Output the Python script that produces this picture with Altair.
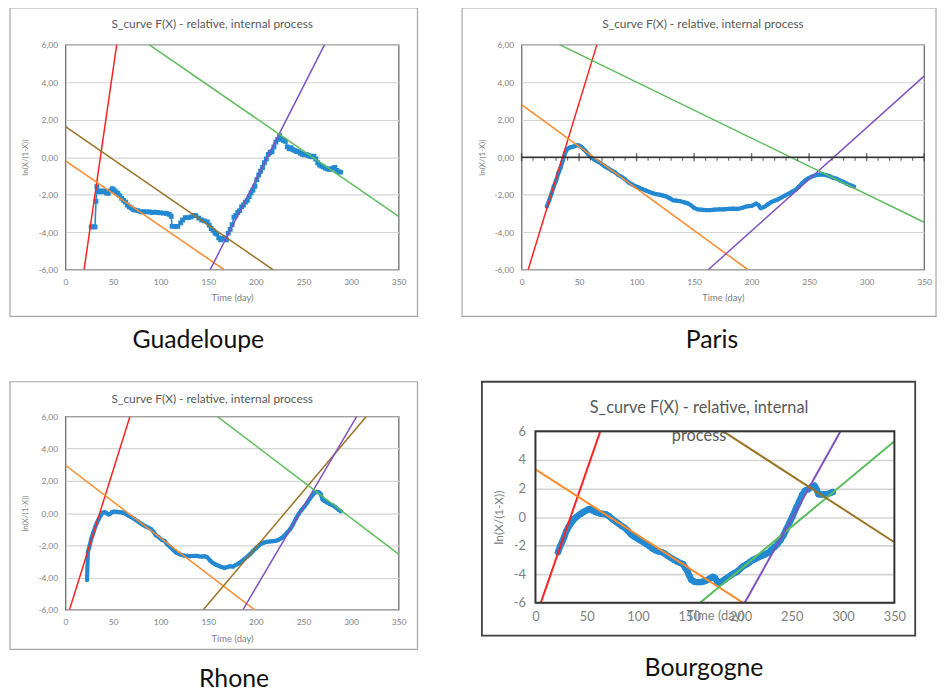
import altair as alt
import pandas as pd

FONT = "Lato"
GREY = "#7f7f7f"
TITLE_GREY = "#595959"

# ---------------- data ----------------
guad_day = [27, 29, 31, 32, 33, 35, 37, 39, 41, 43, 45, 47, 49, 51, 53, 55, 57, 59, 61, 63, 65, 67, 69, 71, 73,
            76, 79, 82, 85, 88, 91, 94, 97, 100, 103, 106, 109, 111, 112, 115, 118, 121, 123, 126, 129, 132, 135,
            137, 140, 143, 146, 149, 151, 153, 155, 157, 159, 161, 163, 165, 167, 169, 171, 173, 175, 177, 179,
            181, 183, 185, 187, 189, 191, 193, 195, 197, 199, 201, 203, 205, 207, 209, 211, 213, 215, 217, 219,
            221, 223, 225, 227, 229, 231, 233, 235, 237, 239, 241, 243, 245, 247, 249, 251, 253, 255, 257, 259,
            261, 263, 265, 267, 269, 271, 273, 275, 277, 279, 281, 283, 285, 287, 289]
guad_val = [-3.72, -3.72, -3.72, -2.35, -1.57, -1.85, -1.80, -1.85, -1.80, -1.90, -1.93, -1.80, -1.68, -1.75,
            -1.85, -1.93, -2.05, -2.20, -2.30, -2.40, -2.55, -2.65, -2.70, -2.78, -2.82, -2.85, -2.92, -2.90,
            -2.92, -2.92, -2.95, -2.93, -2.95, -2.97, -2.98, -3.00, -3.05, -3.15, -3.69, -3.69, -3.69, -3.50,
            -3.35, -3.22, -3.22, -3.18, -3.10, -3.12, -3.25, -3.35, -3.40, -3.45, -3.62, -3.80, -3.90, -4.05,
            -4.10, -4.30, -4.40, -4.35, -4.30, -4.40, -4.05, -3.85, -3.60, -3.20, -3.10, -2.95, -2.85, -2.65,
            -2.55, -2.40, -2.30, -2.10, -1.90, -1.75, -1.55, -1.20, -0.95, -0.75, -0.55, -0.30, -0.10, 0.15,
            0.25, 0.30, 0.55, 0.80, 0.95, 1.15, 0.95, 0.90, 0.85, 0.55, 0.45, 0.50, 0.40, 0.35, 0.30, 0.28,
            0.20, 0.15, 0.12, 0.15, 0.08, 0.05, 0.02, 0.05, -0.10, -0.30, -0.42, -0.48, -0.52, -0.58, -0.62,
            -0.65, -0.63, -0.58, -0.55, -0.70, -0.78, -0.80]

paris_day = [22, 24, 26, 28, 30, 32, 34, 36, 38, 40, 42, 44, 46, 48, 50, 52, 54, 56, 58, 60, 63, 66, 69, 72,
             75, 78, 81, 84, 87, 90, 93, 96, 99, 102, 105, 108, 111, 114, 117, 120, 123, 126, 129, 132, 135,
             138, 141, 144, 147, 150, 153, 156, 160, 164, 168, 172, 176, 180, 184, 188, 192, 196, 200, 204,
             206, 208, 211, 214, 217, 220, 223, 226, 229, 232, 235, 238, 241, 244, 247, 250, 253, 256, 259,
             262, 265, 268, 271, 274, 277, 280, 283, 286, 289]
paris_val = [-2.63, -2.30, -1.95, -1.55, -1.25, -0.85, -0.55, -0.15, 0.25, 0.45, 0.52, 0.55, 0.58, 0.64, 0.62,
             0.55, 0.42, 0.30, 0.15, 0.02, -0.12, -0.22, -0.33, -0.48, -0.58, -0.70, -0.80, -0.95, -1.05,
             -1.18, -1.35, -1.45, -1.55, -1.62, -1.70, -1.78, -1.85, -1.92, -1.97, -2.00, -2.05, -2.10, -2.20,
             -2.30, -2.32, -2.35, -2.40, -2.45, -2.55, -2.70, -2.78, -2.80, -2.82, -2.82, -2.80, -2.78, -2.78,
             -2.76, -2.74, -2.76, -2.70, -2.62, -2.60, -2.48, -2.55, -2.72, -2.65, -2.52, -2.40, -2.32, -2.25,
             -2.15, -2.05, -1.95, -1.85, -1.75, -1.58, -1.38, -1.22, -1.10, -1.02, -0.96, -0.93, -0.92, -0.96,
             -1.02, -1.10, -1.15, -1.25, -1.32, -1.42, -1.50, -1.57]

rhone_day = [22.6, 23.5, 25, 27, 29, 31, 33, 35, 37, 39, 41, 43, 45, 47, 49, 51, 54, 57, 60, 63, 66, 69, 72,
             75, 78, 81, 84, 87, 90, 93, 95, 98, 101, 104, 107, 110, 113, 116, 119, 122, 125, 128, 131, 134,
             137, 140, 143, 146, 149, 152, 155, 158, 161, 164, 167, 170, 173, 176, 179, 182, 185, 188, 191,
             194, 197, 200, 203, 206, 209, 212, 215, 218, 221, 224, 227, 230, 233, 236, 239, 242, 245, 248,
             251, 254, 257, 260, 263, 266, 268, 270, 272, 275, 278, 281, 284, 287, 289]
rhone_val = [-4.15, -2.41, -2.10, -1.60, -1.25, -0.90, -0.60, -0.35, -0.15, 0.02, 0.06, 0.00, -0.08, -0.04,
             0.06, 0.10, 0.08, 0.06, 0.03, -0.05, -0.15, -0.25, -0.35, -0.48, -0.60, -0.72, -0.82, -0.90,
             -1.00, -1.20, -1.38, -1.50, -1.65, -1.72, -1.95, -2.10, -2.28, -2.45, -2.52, -2.60, -2.65, -2.65,
             -2.68, -2.66, -2.65, -2.68, -2.70, -2.68, -2.75, -2.95, -3.10, -3.20, -3.28, -3.35, -3.40, -3.35,
             -3.30, -3.32, -3.22, -3.12, -3.00, -2.85, -2.70, -2.55, -2.35, -2.18, -2.02, -1.88, -1.82, -1.78,
             -1.76, -1.74, -1.72, -1.65, -1.55, -1.40, -1.20, -1.00, -0.70, -0.35, -0.05, 0.20, 0.40, 0.65,
             0.92, 1.15, 1.32, 1.30, 1.20, 0.85, 0.75, 0.65, 0.55, 0.48, 0.35, 0.20, 0.12]

bourg_day = [22, 24, 26, 28, 30, 32, 34, 36, 38, 40, 42, 44, 46, 48, 50, 52, 54, 56, 58, 60, 63, 66, 69, 72,
             75, 78, 81, 84, 87, 90, 93, 96, 99, 102, 105, 108, 111, 114, 117, 120, 123, 126, 129, 132, 135,
             138, 141, 144, 146, 148, 150, 152, 155, 158, 161, 164, 167, 170, 173, 175, 177, 179, 182, 185,
             188, 191, 194, 197, 200, 203, 206, 209, 212, 215, 218, 221, 224, 227, 230, 233, 236, 239, 242,
             245, 248, 251, 254, 257, 260, 263, 266, 269, 272, 274, 276, 279, 282, 285, 288, 290]
bourg_val = [-2.46, -2.05, -1.75, -1.40, -1.00, -0.72, -0.50, -0.30, -0.12, 0.00, 0.12, 0.22, 0.32, 0.40, 0.48,
             0.56, 0.55, 0.45, 0.38, 0.32, 0.25, 0.22, 0.18, 0.05, -0.15, -0.30, -0.45, -0.62, -0.75, -0.95,
             -1.20, -1.35, -1.48, -1.62, -1.75, -1.88, -2.02, -2.20, -2.32, -2.40, -2.45, -2.55, -2.72, -2.85,
             -2.98, -3.10, -3.20, -3.30, -3.55, -3.75, -4.10, -4.40, -4.52, -4.55, -4.55, -4.50, -4.42, -4.30,
             -4.18, -4.25, -4.50, -4.62, -4.50, -4.35, -4.20, -4.05, -3.92, -3.80, -3.60, -3.42, -3.30, -3.15,
             -3.00, -2.90, -2.80, -2.70, -2.60, -2.50, -2.30, -2.10, -1.90, -1.60, -1.25, -0.80, -0.35, 0.10,
             0.60, 1.05, 1.55, 1.85, 1.95, 2.10, 2.20, 1.95, 1.60, 1.58, 1.60, 1.62, 1.70, 1.75]

# fitted straight lines: (colour, day1, val1, day2, val2)
guad_fits = [("red", 19.5, -6, 53.8, 6), ("orange", 0, -0.2, 166.7, -6), ("brown", 0, 1.63, 218, -6),
             ("purple", 152, -6, 272.2, 6), ("green", 87.8, 6, 350, -3.16)]
paris_fits = [("red", 5.7, -6, 65.5, 6), ("orange", 0, 2.8, 196.8, -6), ("purple", 162.3, -6, 350, 4.32),
              ("green", 33, 6, 350, -3.47)]
rhone_fits = [("red", 4.2, -6, 67.7, 6), ("orange", 0, 2.97, 198.6, -6), ("brown", 144.8, -6, 316, 6),
              ("purple", 186.4, -6, 306, 6), ("green", 159.4, 6, 350, -2.55)]
bourg_fits = [("red", 5.2, -6, 63.2, 6), ("orange", 0, 3.34, 202.5, -6), ("green", 160.5, -6, 350, 5.3),
              ("purple", 204, -6, 297.5, 6), ("brown", 183.1, 6, 350, -1.76)]

x_ticks = [0, 50, 100, 150, 200, 250, 300, 350]
y_ticks = [-6, -4, -2, 0, 2, 4, 6]
paris_major = [0, 50, 100, 150, 200, 250, 300, 350]
paris_minor = [d for d in range(0, 351, 10) if d % 50 != 0]

TITLE = "S_curve F(X) - relative, internal process"

FIT_NAMES = ["red", "orange", "brown", "purple", "green"]
FIT_COLORS = ["#ff2222", "#ff8a2b", "#9a7424", "#8052c0", "#5cbd5c"]
BLUE = "#2389d2"


def one():
    return pd.DataFrame({"k": [0]})


def panel(days, vals, fits, w, h, frame, title_pos, label, label_pos, big=False, paris=False,
          square=False, frame_color="#a6a6a6", frame_w=1.2, view_color="#6f6f6f", view_w=1.3, yoff=0):
    lab_fs = 13 if big else 8.5
    if big:
        ylab = "replace(format(datum.value, 'd'), '\u2212', '-')"
    else:
        ylab = "replace(replace(format(datum.value, '.2f'), '.', ','), '\u2212', '-')"
    xax = alt.Axis(values=x_ticks, labelFontSize=lab_fs, labelColor=GREY, labelFont=FONT, ticks=False,
                   domain=False, grid=False, title="Time (day)", titleFont=FONT,
                   titleFontSize=13 if big else 9.5, titleColor=GREY, titleFontWeight="normal",
                   labelPadding=8, titlePadding=-14 if big else 7, labelFlush=False)
    ykw = {}
    if yoff:
        ykw["titleY"] = (h + yoff) / 2
    yax = alt.Axis(values=y_ticks, labelExpr=ylab, labelFontSize=lab_fs, labelColor=GREY, labelFont=FONT,
                   ticks=False, domain=False, grid=True, gridColor="#d4d4d4",
                   gridWidth=1.6 if big else 1.1, title="ln(X/(1-X))", titleFont=FONT,
                   titleFontSize=12 if big else 8, titleColor=GREY, titleFontWeight="normal",
                   labelPadding=10 if big else 8, titlePadding=8, **ykw)
    X = alt.X("day:Q", scale=alt.Scale(domain=[0, 350], nice=False, zero=False), axis=xax)
    if yoff:
        yscale = alt.Scale(domain=[-6, 6], nice=False, zero=False, range=[h, yoff])
    else:
        yscale = alt.Scale(domain=[-6, 6], nice=False, zero=False)
    Y = alt.Y("val:Q", scale=yscale, axis=yax)

    blue_df = pd.DataFrame({"day": days, "val": vals})
    fit_rows = []
    for name, d1, v1, d2, v2 in fits:
        fit_rows.append({"fit": name, "day": d1, "val": v1})
        fit_rows.append({"fit": name, "day": d2, "val": v2})
    fit_df = pd.DataFrame(fit_rows)

    l, r, t, b = frame
    layers = [
        alt.Chart(one()).mark_rect(filled=False, stroke=frame_color, strokeWidth=frame_w).encode(
            x=alt.value(l), x2=alt.value(w + r), y=alt.value(t), y2=alt.value(h + b)),
    ]
    if square:
        layers.append(alt.Chart(blue_df).mark_line(color=BLUE, strokeWidth=1.6, clip=True).encode(x=X, y=Y))
        layers.append(alt.Chart(blue_df).mark_point(color=BLUE, shape="square", filled=True, size=24,
                                                    opacity=1, clip=True).encode(x=X, y=Y))
    else:
        sw = 6.5 if big else 4.2
        layers.append(alt.Chart(blue_df).mark_line(color=BLUE, strokeWidth=sw, strokeCap="round",
                                                   strokeJoin="round", clip=True).encode(x=X, y=Y))
        layers.append(alt.Chart(blue_df).mark_point(color=BLUE, shape="circle", filled=True,
                                                    size=40 if big else 18, opacity=1,
                                                    clip=True).encode(x=X, y=Y))
    layers.append(alt.Chart(fit_df).mark_line(strokeWidth=2 if big else 1.5, clip=True).encode(
        x=X, y=Y, color=alt.Color("fit:N", scale=alt.Scale(domain=FIT_NAMES, range=FIT_COLORS), legend=None)))
    if paris:
        layers.append(alt.Chart(pd.DataFrame({"val": [0]})).mark_rule(color="#333333", strokeWidth=1.5).encode(y=Y))
        layers.append(alt.Chart(pd.DataFrame({"day": paris_major, "val": [0] * len(paris_major)})).mark_tick(
            orient="vertical", size=8, thickness=1.5, color="#333333").encode(x=X, y=Y))
        layers.append(alt.Chart(pd.DataFrame({"day": paris_minor, "val": [0] * len(paris_minor)})).mark_tick(
            orient="vertical", size=3, thickness=1.2, yOffset=2, color="#333333").encode(x=X, y=Y))
    if yoff:
        # plot-area border drawn by hand, since the view also holds the offset strip above it
        layers.append(alt.Chart(one()).mark_rect(filled=False, stroke=view_color, strokeWidth=view_w).encode(
            x=alt.value(0), x2=alt.value(w), y=alt.value(yoff), y2=alt.value(h)))
    tfs = 16.5 if big else 12
    for tx, ty, txt in title_pos:
        layers.append(alt.Chart(one()).mark_text(text=txt, font=FONT, fontSize=tfs, color=TITLE_GREY,
                                                 align="center", baseline="middle").encode(
            x=alt.value(tx), y=alt.value(ty)))
    layers.append(alt.Chart(one()).mark_text(text=label, font=FONT, fontSize=25, color="#111111",
                                             align="center", baseline="middle").encode(
        x=alt.value(label_pos[0]), y=alt.value(h + label_pos[1])))
    if yoff:
        view = alt.ViewBackground(strokeOpacity=0)
    else:
        view = alt.ViewBackground(stroke=view_color, strokeWidth=view_w)
    return alt.layer(*layers).properties(width=w, height=h, view=view)


p1 = panel(guad_day, guad_val, guad_fits, 336, 227, (-56, 19, -37, 47), [(148, -21, TITLE)],
           "Guadeloupe", (134, 71), square=True)
p2 = panel(paris_day, paris_val, paris_fits, 406, 227, (-60, 12, -37, 47), [(183, -21, TITLE)],
           "Paris", (192, 71), paris=True)
p3 = panel(rhone_day, rhone_val, rhone_fits, 336, 195, (-56, 19, -35, 40), [(148, -18, TITLE)],
           "Rhone", (170, 70))
p4 = panel(bourg_day, bourg_val, bourg_fits, 362, 188, (-54, 21, -35, 33),
           [(165, -8, "S_curve F(X) - relative, internal"), (165, 20, "process")],
           "Bourgogne", (170, 66), big=True, frame_color="#404040", frame_w=1.8,
           view_color="#333333", view_w=2, yoff=15)

chart = alt.vconcat(
    alt.hconcat(p1, p2, spacing=41),
    alt.hconcat(p3, p4, spacing=62),
    spacing=26,
).properties(padding={"left": 0, "top": -5, "right": 0, "bottom": 0}, background="white")

chart.save("out.html", embed_options={"renderer": "svg", "actions": False})
